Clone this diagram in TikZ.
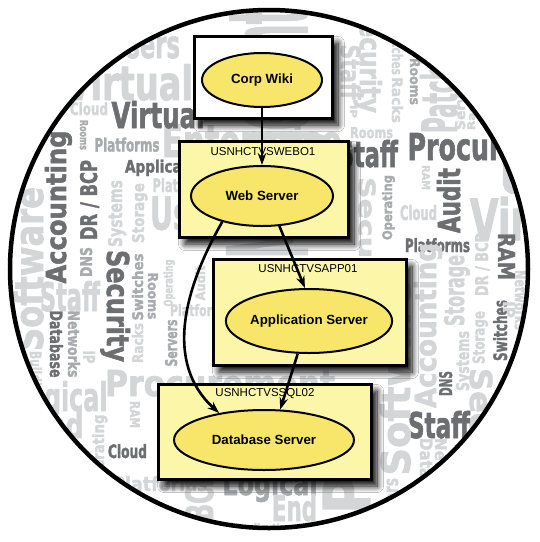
\documentclass[tikz,border=0pt]{standalone}
\usepackage{fontspec}
\setmainfont{Liberation Sans}
\newfontfamily\cloudfont[BoldFeatures={FakeBold=2}]{DejaVu Sans}
\usetikzlibrary{arrows.meta,shadows.blur,shapes.geometric}
\definecolor{cl}{HTML}{D4D5D7}
\definecolor{cm}{HTML}{A9AAAD}
\definecolor{cd}{HTML}{6D6E71}
\definecolor{boxfill}{HTML}{FBF6A8}
\definecolor{ellfill}{HTML}{F8E66A}
\newcounter{wc}
\newcommand\cw[7]{\stepcounter{wc}\node[cloudword,text=#1,rotate=#4] (cw\arabic{wc}) at (#2,-#3) {\raisebox{0pt}[\height][0pt]{\resizebox{#5pt}{#6pt}{\cloudfont\bfseries #7}}};}
\begin{document}
\begin{tikzpicture}[x=1pt,y=1pt,
  cloudword/.style={inner sep=0pt,anchor=center},
  boxshadow/.style={blur shadow={shadow xshift=6pt,shadow yshift=-7pt,shadow blur radius=6.5pt,shadow blur steps=12,shadow opacity=100}},
  serverbox/.style={rectangle,draw=black,line width=3pt,fill=boxfill,inner sep=0pt,boxshadow},
  wikibox/.style={rectangle,draw=black,line width=3pt,fill=white,inner sep=0pt,boxshadow},
  serverell/.style={ellipse,draw=black,line width=2pt,fill=ellfill,inner sep=0pt,font=\fontsize{13.3}{15}\selectfont\bfseries},
  hostlabel/.style={inner sep=0pt,font=\fontsize{11.5}{13}\selectfont},
  conn/.style={line width=2.6pt,-{Stealth[length=12pt,width=8.5pt]}}]
\useasboundingbox (0,0) rectangle (540,-542);
\fill[white] (0,0) rectangle (540,-542);
\begin{scope}
\clip (269,-269) circle (259);
% large background words
\cw{cl}{267}{133}{90}{250}{80}{Management}
\cw{cl}{252}{140}{0}{180}{34}{Enterprise}
% left
\cw{cl}{144}{44}{0}{72}{28}{Users}
\cw{cl}{129}{82}{0}{128}{36}{Virtual}
\cw{cl}{89}{108.5}{0}{38}{13}{Cloud}
\cw{cd}{158}{114.5}{0}{93}{27}{Virtual}
\cw{cm}{84}{135}{-90}{30}{8}{Rooms}
\cw{cm}{127}{144.5}{0}{65}{14}{Platforms}
\cw{cd}{172.5}{166}{0}{95}{13}{Applications}
\cw{cl}{184}{185}{0}{63}{14}{Platforms}
\cw{cl}{195}{213}{0}{90}{33}{Users}
\cw{cd}{55.5}{207}{90}{153}{21}{Accounting}
\cw{cd}{88.5}{200}{90}{80}{17}{DR / BCP}
\cw{cl}{115}{213.5}{90}{67}{14}{Systems}
\cw{cl}{138}{213}{90}{60}{12}{Storage}
\cw{cl}{28}{269}{90}{164}{30}{Software}
\cw{cm}{86}{262}{90}{30}{12}{DNS}
\cw{cd}{118.5}{306}{-90}{112}{23}{Security}
\cw{cm}{137.5}{287}{90}{67}{11}{Switches}
\cw{cl}{137.5}{343}{90}{40}{11}{Racks}
\cw{cm}{153}{296}{-90}{47}{10}{Rooms}
\cw{cl}{168}{283}{90}{47}{9}{Operating}
\cw{cm}{171}{343}{90}{47}{12}{Servers}
\cw{cl}{70}{296}{0}{60}{30}{Staff}
\cw{cd}{56.5}{344}{-90}{67}{13}{Database}
\cw{cm}{74}{344}{-90}{67}{12}{Networks}
\cw{cl}{89}{357}{-90}{13}{12}{IP}
\cw{cl}{36}{376}{-90}{50}{12}{Building}
\cw{cl}{220}{383}{0}{230}{26}{Procurement}
\cw{cl}{60}{396}{0}{95}{30}{Logical}
\cw{cl}{57}{424.5}{0}{53}{27}{End}
\cw{cl}{135}{414.5}{-90}{27}{10}{RAM}
\cw{cl}{98}{452}{90}{75}{12}{Operating}
\cw{cd}{127.5}{451}{0}{39}{14}{Cloud}
\cw{cl}{160}{483.5}{0}{95}{15}{Platforms}
\cw{cl}{199}{496}{90}{50}{28}{BCP}
\cw{cm}{270}{482.5}{0}{95}{25}{Logical}
\cw{cl}{294.5}{507.5}{0}{45}{27}{End}
\cw{cl}{346.5}{494}{90}{40}{47}{P}
\cw{cl}{263}{528}{0}{60}{10}{Application}
% right
\cw{cl}{371}{59}{-90}{108}{22}{Security}
\cw{cl}{351}{72}{-90}{55}{20}{Staff}
\cw{cl}{353.5}{111.5}{-90}{13}{7}{IP}
\cw{cl}{397.5}{48}{-90}{54}{11}{Switches}
\cw{cl}{397.5}{100}{-90}{46}{11}{Racks}
\cw{cm}{415}{81.5}{-90}{47}{10}{Rooms}
\cw{cl}{438.5}{80}{90}{106}{37}{Patching}
\cw{cl}{460}{100}{90}{60}{10}{Servers}
\cw{cl}{471}{110}{90}{40}{8}{Racks}
\cw{cl}{371.5}{132.5}{0}{43}{11}{Rooms}
\cw{cd}{368}{153.5}{0}{60}{27}{Staff}
\cw{cd}{500}{146.5}{0}{185}{27}{Procurement}
\cw{cl}{426}{177.5}{-90}{25}{8}{RAM}
\cw{cd}{448.5}{200.5}{90}{65}{23}{Audit}
\cw{cm}{387}{207.5}{90}{65}{10}{Operating}
\cw{cl}{418.5}{212.5}{0}{37}{15}{Cloud}
\cw{cd}{437.5}{245}{0}{65}{14}{Platforms}
\cw{cl}{540}{218.5}{0}{140}{43}{Virtual}
\cw{cl}{555}{176.5}{0}{110}{33}{Users}
\cw{cl}{481.5}{264.5}{90}{63}{13}{DR / BCP}
\cw{cd}{506.5}{256.5}{-90}{47}{17}{RAM}
\cw{cl}{454}{290.5}{90}{71}{20}{Storage}
\cw{cl}{367.5}{247}{-90}{140}{17}{Security}
\cw{cl}{425}{325.5}{90}{165}{22}{Accounting}
\cw{cd}{500}{330.5}{90}{61}{14}{Switches}
\cw{cl}{478.5}{337.5}{90}{53}{12}{Storage}
\cw{cl}{462.5}{361}{90}{60}{13}{Systems}
\cw{cd}{445.5}{383.5}{90}{25}{13}{DNS}
\cw{cl}{481.5}{443}{-90}{150}{23}{Security}
\cw{cd}{439}{424.5}{0}{62}{27}{Staff}
\cw{cl}{395}{378}{90}{195}{30}{Software}
\cw{cl}{426.5}{478}{-90}{80}{13}{Database}
\cw{cl}{441}{478}{-90}{80}{12}{Networks}
\cw{cl}{390.5}{508}{90}{60}{15}{Servers}
\cw{cl}{509}{309.5}{-90}{17}{12}{IP}
\cw{cl}{521}{300}{-90}{60}{12}{Networks}
% middle
\cw{cl}{200}{310}{0}{60}{12}{Platforms}
\cw{cl}{200}{283}{90}{35}{10}{Audit}
\end{scope}
\draw[line width=4.5pt] (269,-269) circle (259);
% boxes
\node[wikibox,minimum width=138pt,minimum height=82pt] (wikibox) at (263,-77) {};
\node[serverell,minimum width=120pt,minimum height=54pt] (wiki) at (262,-80) {Corp Wiki};
\node[serverbox,minimum width=169pt,minimum height=96pt] (webbox) at (263.5,-189) {};
\node[hostlabel] (weblbl) at (263,-152) {USNHCTVSWEBO1};
\node[serverell,minimum width=142pt,minimum height=60pt] (web) at (262,-196) {Web Server};
\node[serverbox,minimum width=193pt,minimum height=106pt] (appbox) at (309.5,-312) {};
\node[hostlabel] (applbl) at (308,-269) {USNHCTVSAPP01};
\node[serverell,minimum width=166pt,minimum height=64pt] (app) at (309,-321) {Application Server};
\node[serverbox,minimum width=213pt,minimum height=95pt] (dbbox) at (264.5,-431.5) {};
\node[hostlabel] (dblbl) at (265,-394) {USNHCTVSSQL02};
\node[serverell,minimum width=180pt,minimum height=60pt] (db) at (264,-440) {Database Server};
% connectors
\draw[conn] (wiki.south) -- (web.north);
\draw[conn] (web.-60) -- (app.97);
\draw[conn] (app.-109) -- (db.62);
\draw[conn] (web.-147) .. controls (184,-289) and (164,-363) .. (db.149);
\end{tikzpicture}
\end{document}
